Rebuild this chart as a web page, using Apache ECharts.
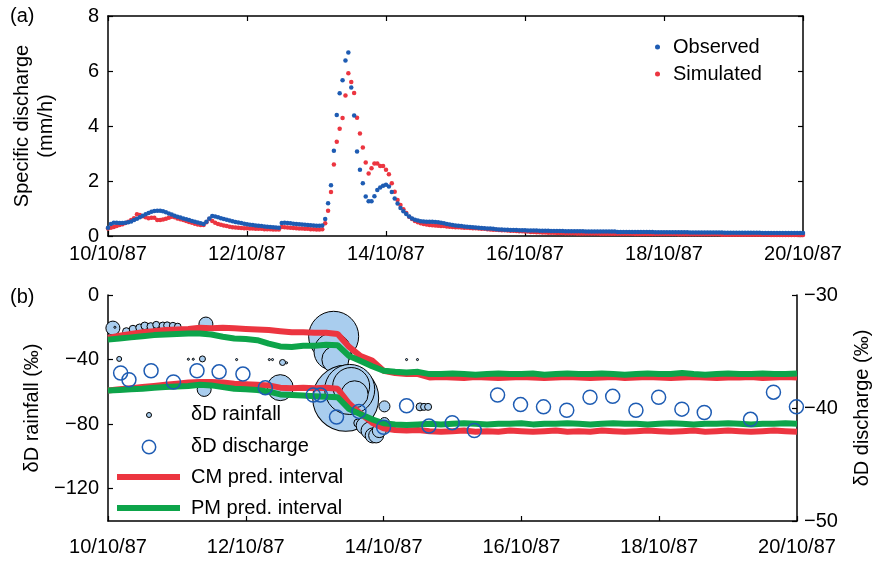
<!DOCTYPE html>
<html lang="en">
<head>
    <meta charset="UTF-8">
    <title>Discharge and deuterium</title>
    <script src="https://cdn.jsdelivr.net/npm/echarts@6/dist/echarts.min.js"></script>
</head>
<body style="margin:0">

<div id="main" style="width: 880px;height: 561px"></div>

<script>
    // x axis is hours since 10/10/87 00:00
    var dateTicks = ['10/10/87', '12/10/87', '14/10/87', '16/10/87', '18/10/87', '20/10/87'];

    // specific discharge (mm/h), hourly, h0..h240
    var observed = [
        0.30, 0.44, 0.48, 0.48, 0.47, 0.47, 0.48, 0.50, 0.53, 0.58,
        0.63, 0.68, 0.74, 0.79, 0.84, 0.88, 0.91, 0.92, 0.92, 0.90,
        0.86, 0.82, 0.78, 0.74, 0.70, 0.67, 0.64, 0.61, 0.58, 0.55,
        0.52, 0.49, 0.46, 0.44, 0.52, 0.64, 0.73, 0.71, 0.68, 0.65,
        0.62, 0.59, 0.56, 0.54, 0.51, 0.49, 0.47, 0.45, 0.43, 0.41,
        0.40, 0.38, 0.37, 0.36, 0.35, 0.34, 0.33, 0.32, 0.31, 0.30,
        0.47, 0.48, 0.47, 0.46, 0.45, 0.44, 0.43, 0.42, 0.41, 0.40,
        0.39, 0.38, 0.37, 0.37, 0.38, 0.62, 1.19, 1.85, 3.10, 4.40,
        5.19, 5.66, 6.38, 6.67, 5.40, 4.38, 3.07, 2.41, 1.92, 1.44,
        1.26, 1.26, 1.45, 1.67, 1.76, 1.83, 1.86, 1.80, 1.60, 1.36,
        1.18, 1.02, 0.90, 0.80, 0.71, 0.64, 0.59, 0.56, 0.54, 0.53,
        0.52, 0.52, 0.52, 0.51, 0.50, 0.48, 0.46, 0.44, 0.42, 0.40,
        0.38, 0.37, 0.36, 0.35, 0.34, 0.33, 0.32, 0.31, 0.30, 0.29,
        0.28, 0.27, 0.27, 0.26, 0.25, 0.24, 0.24, 0.23, 0.23, 0.22,
        0.22, 0.22, 0.21, 0.21, 0.21, 0.20, 0.20, 0.20, 0.20, 0.19,
        0.19, 0.19, 0.19, 0.18, 0.18, 0.18, 0.18, 0.18, 0.17, 0.17,
        0.17, 0.17, 0.17, 0.17, 0.17, 0.16, 0.16, 0.16, 0.16, 0.16,
        0.16, 0.16, 0.16, 0.16, 0.16, 0.16, 0.15, 0.15, 0.15, 0.15,
        0.15, 0.15, 0.15, 0.15, 0.15, 0.15, 0.15, 0.15, 0.15, 0.14,
        0.14, 0.14, 0.14, 0.14, 0.14, 0.14, 0.14, 0.14, 0.14, 0.14,
        0.14, 0.13, 0.13, 0.13, 0.13, 0.13, 0.13, 0.13, 0.13, 0.13,
        0.13, 0.13, 0.13, 0.12, 0.12, 0.12, 0.12, 0.12, 0.12, 0.12,
        0.12, 0.12, 0.12, 0.12, 0.12, 0.12, 0.11, 0.11, 0.11, 0.11,
        0.11, 0.11, 0.11, 0.11, 0.11, 0.11, 0.11, 0.11, 0.11, 0.11,
        0.11
    ];
    var simulated = [
        0.27, 0.30, 0.33, 0.36, 0.40, 0.43, 0.47, 0.52, 0.58, 0.65,
        0.79, 0.76, 0.72, 0.68, 0.65, 0.66, 0.66, 0.58, 0.58, 0.60,
        0.63, 0.66, 0.70, 0.68, 0.64, 0.61, 0.58, 0.55, 0.51, 0.48,
        0.45, 0.42, 0.40, 0.40, 0.50, 0.62, 0.55, 0.48, 0.44, 0.41,
        0.38, 0.36, 0.34, 0.32, 0.31, 0.30, 0.29, 0.28, 0.28, 0.27,
        0.27, 0.26, 0.26, 0.26, 0.25, 0.25, 0.25, 0.24, 0.24, 0.24,
        0.33, 0.32, 0.31, 0.30, 0.29, 0.28, 0.27, 0.27, 0.26, 0.26,
        0.25, 0.25, 0.24, 0.24, 0.25, 0.46, 0.92, 1.60, 2.60, 3.43,
        3.90, 4.29, 5.11, 5.92, 5.60, 5.20, 4.30, 3.73, 3.22, 2.67,
        2.27, 2.46, 2.64, 2.64, 2.55, 2.55, 2.41, 2.25, 1.92, 1.61,
        1.31, 1.13, 0.97, 0.84, 0.70, 0.62, 0.55, 0.50, 0.46, 0.44,
        0.42, 0.40, 0.39, 0.38, 0.37, 0.36, 0.36, 0.35, 0.34, 0.33,
        0.32, 0.32, 0.31, 0.30, 0.30, 0.29, 0.28, 0.28, 0.27, 0.26,
        0.26, 0.25, 0.24, 0.23, 0.23, 0.22, 0.21, 0.21, 0.20, 0.19,
        0.19, 0.18, 0.17, 0.17, 0.16, 0.16, 0.15, 0.15, 0.14, 0.14,
        0.13, 0.13, 0.12, 0.12, 0.12, 0.11, 0.11, 0.11, 0.10, 0.10,
        0.10, 0.10, 0.09, 0.09, 0.09, 0.09, 0.09, 0.09, 0.09, 0.09,
        0.08, 0.08, 0.08, 0.08, 0.08, 0.08, 0.08, 0.08, 0.08, 0.08,
        0.08, 0.08, 0.07, 0.07, 0.07, 0.07, 0.07, 0.07, 0.07, 0.07,
        0.07, 0.07, 0.07, 0.07, 0.07, 0.07, 0.07, 0.06, 0.06, 0.06,
        0.06, 0.06, 0.06, 0.06, 0.06, 0.06, 0.06, 0.06, 0.06, 0.06,
        0.06, 0.06, 0.05, 0.05, 0.05, 0.05, 0.05, 0.05, 0.05, 0.05,
        0.05, 0.05, 0.05, 0.05, 0.05, 0.05, 0.05, 0.05, 0.05, 0.04,
        0.04, 0.04, 0.04, 0.04, 0.04, 0.04, 0.04, 0.04, 0.04, 0.04,
        0.04
    ];

    // rainfall samples: [hour, deltaD (permil), rain amount (mm)]
    var rainfall = [
        [1.7, -20.5, 1.36], [2.4, -20.0, 0.03], [3.9, -39.6, 0.17],
        [6.4, -22.6, 0.40], [8.7, -21.1, 0.40], [11.0, -20.3, 0.40],
        [12.8, -19.1, 0.40], [14.9, -19.5, 0.40], [16.8, -18.5, 0.34],
        [19.1, -19.1, 0.40], [20.6, -18.8, 0.34], [22.6, -19.1, 0.34],
        [24.3, -19.5, 0.30], [28.0, -39.8, 0.03], [29.7, -39.8, 0.03],
        [32.9, -39.6, 0.25], [33.5, -58.5, 1.36], [34.1, -18.0, 1.36],
        [44.8, -40.0, 0.03], [56.2, -40.0, 0.03], [57.3, -40.0, 0.03],
        [60.0, -57.4, 4.7], [60.8, -41.8, 0.25], [62.2, -42.0, 0.03],
        [78.6, -25.6, 17.4], [78.2, -35.0, 9.5], [79.2, -40.0, 5.06],
        [82.8, -64.0, 30.2], [84.2, -58.5, 17.4], [84.7, -56.4, 9.5],
        [85.9, -61.5, 5.06], [87.0, -79.3, 0.44], [89.4, -81.0, 2.0],
        [91.1, -84.0, 2.0], [92.2, -87.0, 1.56], [93.4, -87.0, 1.56],
        [94.5, -84.0, 1.36], [96.3, -79.0, 0.69], [96.3, -69.0, 0.84],
        [104.0, -40.0, 0.03], [107.8, -40.0, 0.03], [108.7, -69.3, 0.44],
        [110.1, -69.3, 0.34], [111.5, -69.3, 0.34]
    ];

    // stream water samples: [hour, deltaD (permil)]
    var discharge = [
        [4.4, -36.9], [7.3, -37.5], [15.0, -36.7], [22.8, -37.7], [31.0, -36.7],
        [38.7, -36.8], [47.0, -37.0], [54.8, -38.2], [71.5, -38.85], [74.0, -38.85],
        [79.6, -40.8], [87.4, -40.3], [96.0, -41.7], [104.0, -39.8], [111.8, -41.6],
        [119.9, -41.3], [127.6, -42.0], [135.7, -38.85], [143.7, -39.7], [151.7, -39.9],
        [159.8, -40.2], [167.9, -39.05], [175.8, -38.97], [183.9, -40.2], [191.8, -39.05],
        [199.9, -40.1], [207.7, -40.4], [223.8, -41.0], [231.8, -38.6], [239.8, -39.9]
    ];

    // prediction interval bounds, every 4 h from h0 to h240
    var cmUpper = [
        -33.80, -33.60, -33.45, -33.30, -33.20, -33.10, -33.05, -33.00, -32.90, -32.95,
        -32.90, -32.95, -33.00, -33.05, -33.10, -33.20, -33.30, -33.30, -33.35, -33.35,
        -33.45, -34.60, -35.40, -35.80, -36.70, -36.90, -37.00, -37.00, -37.30, -37.25,
        -37.30, -37.35, -37.25, -37.30, -37.35, -37.30, -37.25, -37.30, -37.35, -37.30,
        -37.25, -37.30, -37.35, -37.30, -37.25, -37.35, -37.30, -37.25, -37.30, -37.35,
        -37.30, -37.25, -37.30, -37.35, -37.30, -37.30, -37.25, -37.35, -37.30, -37.25,
        -37.30
    ];
    var cmLower = [
        -38.45, -38.35, -38.25, -38.15, -38.05, -37.95, -37.85, -37.75, -37.70, -37.70,
        -37.75, -37.85, -37.90, -37.95, -38.00, -38.20, -38.25, -38.20, -38.25, -38.20,
        -38.30, -39.60, -40.50, -41.30, -41.80, -41.95, -42.00, -41.95, -42.05, -42.10,
        -42.05, -42.00, -42.10, -42.05, -42.10, -42.00, -42.05, -42.10, -42.05, -42.00,
        -42.10, -42.05, -42.10, -42.00, -42.05, -42.10, -42.05, -42.00, -42.05, -42.10,
        -42.05, -42.00, -42.10, -42.05, -42.00, -42.05, -42.10, -42.05, -42.00, -42.05,
        -42.10
    ];
    var pmUpper = [
        -33.95, -33.85, -33.75, -33.65, -33.55, -33.50, -33.45, -33.40, -33.40, -33.50,
        -33.70, -33.85, -33.90, -34.00, -34.30, -34.55, -34.60, -34.50, -34.50, -34.40,
        -34.45, -35.40, -35.85, -36.30, -36.70, -36.80, -36.85, -36.80, -37.00, -37.00,
        -36.95, -37.00, -37.05, -37.00, -36.95, -37.00, -37.00, -36.95, -37.05, -37.00,
        -36.95, -37.00, -37.00, -36.95, -37.00, -37.05, -37.00, -36.95, -37.00, -37.00,
        -36.90, -37.00, -37.05, -37.00, -36.95, -37.00, -37.00, -36.95, -37.00, -37.00,
        -36.95
    ];
    var pmLower = [
        -38.45, -38.40, -38.35, -38.30, -38.20, -38.15, -38.10, -38.05, -37.95, -38.00,
        -38.15, -38.30, -38.35, -38.40, -38.55, -38.80, -38.85, -38.90, -38.95, -39.00,
        -39.05, -40.10, -40.55, -41.00, -41.35, -41.45, -41.50, -41.45, -41.40, -41.45,
        -41.40, -41.35, -41.40, -41.45, -41.40, -41.40, -41.35, -41.45, -41.40, -41.40,
        -41.35, -41.40, -41.45, -41.40, -41.35, -41.40, -41.40, -41.45, -41.40, -41.35,
        -41.40, -41.45, -41.40, -41.40, -41.35, -41.40, -41.45, -41.40, -41.40, -41.35,
        -41.40
    ];

    var FONT = 'Liberation Sans, Arial, Helvetica, sans-serif';
    var BLUE = '#1e5cb3';
    var RED = '#ec3540';
    var GREEN = '#0da44a';

    function hourly(arr) {
        return arr.map(function (v, i) { return [i, v]; });
    }
    function every4h(arr) {
        return arr.map(function (v, i) { return [i * 4, v]; });
    }
    function minus(v) {
        return String(v).replace('-', '\u2212');
    }

    var axisLine = {show: true, onZero: false, lineStyle: {color: '#000', width: 1.5}};
    var tickIn = {show: true, inside: true, length: 5, lineStyle: {color: '#000', width: 1.2}};
    var labelStyle = {color: '#000', fontSize: 20, fontFamily: FONT};

    var myChart = echarts.init(document.getElementById('main'), null, {renderer: 'canvas'});

    var option = {
        animation: false,
        backgroundColor: '#fff',
        textStyle: {fontFamily: FONT},
        grid: [
            {left: 108, right: 77, top: 16, height: 220},
            {left: 108, right: 77, top: 295, height: 226}
        ],
        legend: [{
            data: ['Observed', 'Simulated'],
            orient: 'vertical',
            left: 650,
            top: 32,
            icon: 'circle',
            itemWidth: 5,
            itemHeight: 5,
            itemGap: 7,
            textStyle: {color: '#000', fontSize: 20, fontFamily: FONT, padding: [0, 0, 0, 8]}
        }],
        graphic: [
            {type: 'text', left: 10, top: 6, style: {text: '(a)', fontSize: 20, fontFamily: FONT, fill: '#000'}},
            {type: 'text', left: 10, top: 287, style: {text: '(b)', fontSize: 20, fontFamily: FONT, fill: '#000'}},
            {type: 'circle', shape: {cx: 149, cy: 415, r: 2.5}, style: {fill: '#a9cdee', stroke: '#000', lineWidth: 1}},
            {type: 'text', left: 191, top: 404, style: {text: '\u03b4D rainfall', fontSize: 20, fontFamily: FONT, fill: '#000'}},
            {type: 'circle', shape: {cx: 149, cy: 447, r: 6.7}, style: {fill: 'none', stroke: BLUE, lineWidth: 1.5}},
            {type: 'text', left: 191, top: 436, style: {text: '\u03b4D discharge', fontSize: 20, fontFamily: FONT, fill: '#000'}},
            {type: 'line', shape: {x1: 117, y1: 477, x2: 180, y2: 477}, style: {stroke: RED, lineWidth: 6}},
            {type: 'text', left: 191, top: 467, style: {text: 'CM pred. interval', fontSize: 20, fontFamily: FONT, fill: '#000'}},
            {type: 'line', shape: {x1: 117, y1: 508, x2: 180, y2: 508}, style: {stroke: GREEN, lineWidth: 6}},
            {type: 'text', left: 191, top: 498, style: {text: 'PM pred. interval', fontSize: 20, fontFamily: FONT, fill: '#000'}}
        ],
        xAxis: [
            {
                gridIndex: 0, type: 'value', min: 0, max: 240, interval: 48,
                axisLine: axisLine, axisTick: tickIn, splitLine: {show: false},
                axisLabel: Object.assign({margin: 8, formatter: function (v) { return dateTicks[v / 48]; }}, labelStyle)
            },
            {
                gridIndex: 0, type: 'value', position: 'top', min: 0, max: 240, interval: 48,
                axisLine: axisLine, axisTick: tickIn, splitLine: {show: false},
                axisLabel: {show: false}
            },
            {
                gridIndex: 1, type: 'value', min: 0, max: 240, interval: 48,
                axisLine: axisLine, axisTick: tickIn, splitLine: {show: false},
                axisLabel: Object.assign({margin: 16, formatter: function (v) { return dateTicks[v / 48]; }}, labelStyle)
            }
        ],
        yAxis: [
            {
                gridIndex: 0, type: 'value', min: 0, max: 8, interval: 2,
                axisLine: axisLine, axisTick: tickIn, splitLine: {show: false},
                axisLabel: Object.assign({margin: 9}, labelStyle),
                name: 'Specific discharge\n(mm/h)', nameLocation: 'middle', nameRotate: 90, nameGap: 50,
                nameTextStyle: {color: '#000', fontSize: 20, lineHeight: 24, fontFamily: FONT}
            },
            {
                gridIndex: 0, type: 'value', position: 'right', min: 0, max: 8, interval: 2,
                axisLine: axisLine, axisTick: tickIn, splitLine: {show: false},
                axisLabel: {show: false}
            },
            {
                gridIndex: 1, type: 'value', min: -140, max: 0,
                axisLine: axisLine,
                axisTick: Object.assign({customValues: [-120, -80, -40, 0]}, tickIn),
                splitLine: {show: false},
                axisLabel: Object.assign({margin: 9, customValues: [-120, -80, -40, 0], formatter: minus}, labelStyle),
                name: '\u03b4D rainfall (\u2030)', nameLocation: 'middle', nameRotate: 90, nameGap: 66,
                nameTextStyle: {color: '#000', fontSize: 20, fontFamily: FONT}
            },
            {
                gridIndex: 1, type: 'value', position: 'right', min: -50, max: -30, interval: 10,
                axisLine: axisLine, axisTick: tickIn, splitLine: {show: false},
                axisLabel: Object.assign({margin: 7, formatter: minus}, labelStyle),
                name: '\u03b4D discharge (\u2030)', nameLocation: 'middle', nameRotate: 90, nameGap: 55,
                nameTextStyle: {color: '#000', fontSize: 20, fontFamily: FONT}
            }
        ],
        series: [
            {
                name: 'Simulated', type: 'scatter', xAxisIndex: 0, yAxisIndex: 0,
                data: hourly(simulated), symbolSize: 4.5, itemStyle: {color: RED, opacity: 1}, z: 2
            },
            {
                name: 'Observed', type: 'scatter', xAxisIndex: 0, yAxisIndex: 0,
                data: hourly(observed), symbolSize: 4.5, itemStyle: {color: BLUE, opacity: 1}, z: 3
            },
            {
                name: '\u03b4D rainfall', type: 'scatter', xAxisIndex: 2, yAxisIndex: 2,
                data: rainfall,
                symbolSize: function (v) { return 12 * Math.sqrt(v[2]); },
                itemStyle: {color: '#a9cdee', borderColor: '#000', borderWidth: 1, opacity: 1},
                z: 2
            },
            {
                name: 'CM pred. interval', type: 'line', xAxisIndex: 2, yAxisIndex: 3,
                data: every4h(cmUpper), showSymbol: false, lineStyle: {color: RED, width: 6}, z: 3
            },
            {
                name: 'CM pred. interval', type: 'line', xAxisIndex: 2, yAxisIndex: 3,
                data: every4h(cmLower), showSymbol: false, lineStyle: {color: RED, width: 6}, z: 3
            },
            {
                name: 'PM pred. interval', type: 'line', xAxisIndex: 2, yAxisIndex: 3,
                data: every4h(pmUpper), showSymbol: false, lineStyle: {color: GREEN, width: 6}, z: 4
            },
            {
                name: 'PM pred. interval', type: 'line', xAxisIndex: 2, yAxisIndex: 3,
                data: every4h(pmLower), showSymbol: false, lineStyle: {color: GREEN, width: 6}, z: 4
            },
            {
                name: '\u03b4D discharge', type: 'scatter', xAxisIndex: 2, yAxisIndex: 3,
                data: discharge, symbolSize: 14,
                itemStyle: {color: 'rgba(0,0,0,0)', borderColor: BLUE, borderWidth: 1.5, opacity: 1},
                z: 5
            }
        ]
    };

    myChart.setOption(option);
</script>

</body>
</html>
